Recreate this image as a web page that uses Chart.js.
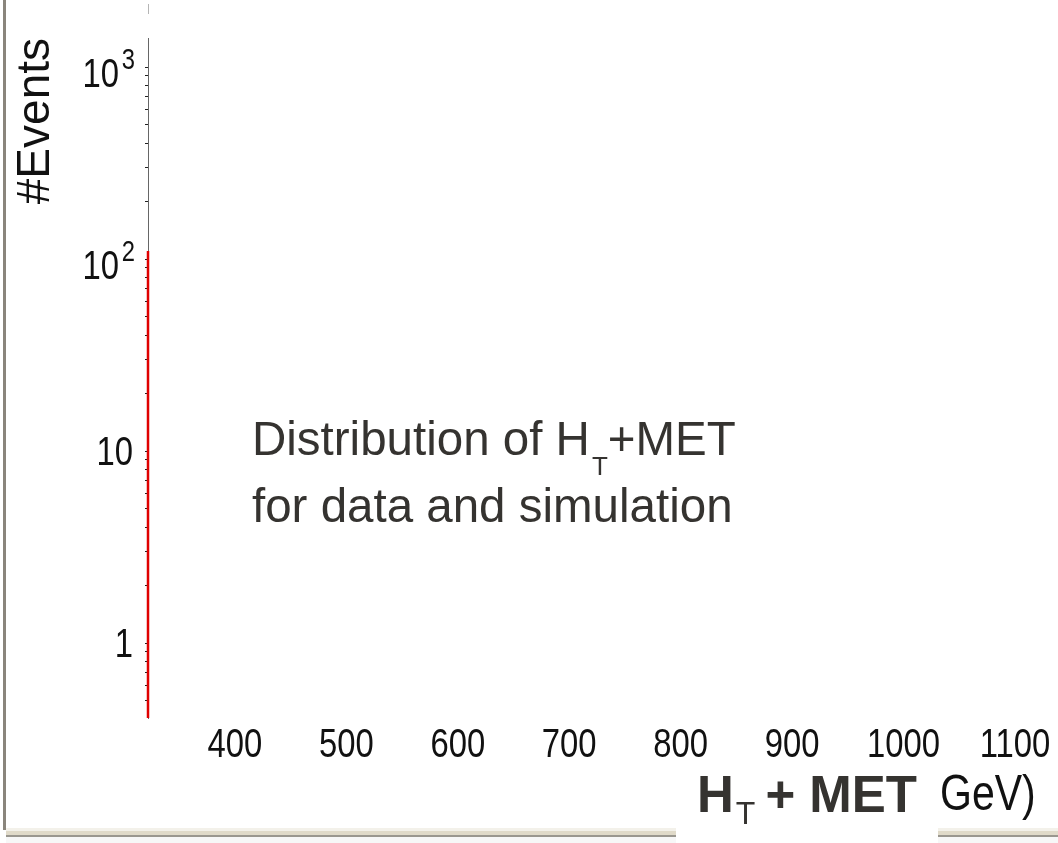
<!DOCTYPE html>
<html>
<head>
<meta charset="utf-8">
<script src="https://cdn.jsdelivr.net/npm/chart.js@4/dist/chart.umd.min.js"></script>
<style>
  body { margin: 0; background: #fff; }
  #wrap { width: 1058px; height: 843px; position: relative; }
</style>
</head>
<body>
<div id="wrap"><canvas id="goo"></canvas></div>
<script>
// HT+MET axis range and labels
const xRange = [322, 1138.6];
const xTicks = [400, 500, 600, 700, 800, 900, 1000, 1100];

// #Events log axis
const yRange = [0.407, 1416];
const yTicks = [0.5, 0.6, 0.7, 0.8, 0.9, 1, 2, 3, 4, 5, 6, 7, 8, 9,
                10, 20, 30, 40, 50, 60, 70, 80, 90,
                100, 200, 300, 400, 500, 600, 700, 800, 900, 1000];
// decade labels: [base, exponent]
const yLabels = { 1: ["1", ""], 10: ["10", ""], 100: ["10", "2"], 1000: ["10", "3"] };

// the only visible piece of the histogram: its left edge
const binEdge = [322, 322];
const simCounts = [0.407, 110];

const sans = "'Liberation Sans', Arial, sans-serif";
const squeeze = 0.82;   // the slide used a narrow face

function narrowText(c, text, x, y, align) {
    c.save();
    c.translate(x, y);
    c.scale(squeeze, 1);
    c.textAlign = align;
    c.fillText(text, 0, 0);
    c.restore();
}

let slideBits = {
    id: "slideBits",
    afterDraw(chart) {
        let c = chart.ctx;
        let xs = chart.scales.x;
        let ys = chart.scales.y;
        c.save();
        c.textBaseline = "alphabetic";

        // left border of the slide
        c.fillStyle = "#8a857c";
        c.fillRect(3, 0, 3, 830);
        c.fillStyle = "#b5b5b5";
        c.fillRect(148, 4, 1, 10);

        // tick labels, narrow like the original
        c.fillStyle = "#111";
        xTicks.forEach(v => {
            c.font = "40px " + sans;
            narrowText(c, String(v), xs.getPixelForValue(v), 757, "center");
        });
        Object.keys(yLabels).forEach(k => {
            let v = Number(k);
            let py = ys.getPixelForValue(v);
            let lab = yLabels[k];
            c.font = "40px " + sans;
            if (lab[1]) {
                narrowText(c, lab[0], 119, py + 20, "right");
                c.font = "29px " + sans;
                narrowText(c, lab[1], 135, py + 2, "right");
            } else {
                narrowText(c, lab[0], 133, py + 14, "right");
            }
        });

        // caption in the middle
        c.fillStyle = "#353330";
        c.textAlign = "left";
        c.font = "47.5px " + sans;
        let t1 = "Distribution of H";
        c.fillText(t1, 252, 455);
        let x = 252 + c.measureText(t1).width + 2;
        c.font = "26px " + sans;
        c.fillText("T", x, 475);
        x += c.measureText("T").width;
        c.font = "47.5px " + sans;
        c.fillText("+MET", x, 455);
        c.fillText("for data and simulation", 252, 522);

        // window chrome at the bottom
        c.fillStyle = "#f3f1ea";
        c.fillRect(6, 828, 1052, 3);
        c.fillStyle = "#e0dac9";
        c.fillRect(6, 831, 1052, 4);
        c.fillStyle = "#9a978f";
        c.fillRect(6, 835, 1052, 2);
        c.fillStyle = "#f7f7f7";
        c.fillRect(6, 837, 1052, 6);

        // leftover of the axis title
        c.fillStyle = "#111";
        c.font = "50px " + sans;
        narrowText(c, "GeV)", 940, 810, "left");

        // pasted white label over the axis title
        c.fillStyle = "#fff";
        c.fillRect(676, 770, 262, 73);
        c.fillStyle = "#353330";
        c.textAlign = "left";
        c.font = "bold 51px " + sans;
        c.fillText("H", 697, 812);
        x = 697 + c.measureText("H").width + 2;
        c.font = "32px " + sans;
        c.fillText("T", x, 824);
        x += c.measureText("T").width + 10;
        c.font = "bold 51px " + sans;
        c.fillText("+ MET", x, 812);

        c.restore();
    }
};

var ctx = document.getElementById("goo").getContext("2d");
var goo = new Chart(ctx, {
    type: "line",
    data: {
        datasets: [{
            label: "simulation",
            data: binEdge.map((v, i) => ({ x: v, y: simCounts[i] })),
            borderColor: "#e00000",
            borderWidth: 2.5,
            pointRadius: 0,
            fill: false,
            clip: false
        }]
    },
    options: {
        responsive: true,
        maintainAspectRatio: false,
        animation: false,
        layout: { padding: { top: 38, left: 0, right: 0, bottom: 0 } },
        plugins: {
            legend: { display: false },
            tooltip: { enabled: false }
        },
        scales: {
            x: {
                type: "linear",
                min: xRange[0],
                max: xRange[1],
                afterBuildTicks: (s) => { s.ticks = xTicks.map(v => ({ value: v })); },
                afterFit: (s) => { s.height = 125; },
                grid: { display: false, drawTicks: false },
                border: { display: false },
                ticks: { display: false, autoSkip: false }
            },
            y: {
                type: "logarithmic",
                min: yRange[0],
                max: yRange[1],
                afterBuildTicks: (s) => { s.ticks = yTicks.map(v => ({ value: v })); },
                afterFit: (s) => { s.width = 148; },
                grid: { drawOnChartArea: false, tickLength: 3, color: "#222" },
                border: { display: true, color: "#666", width: 1 },
                ticks: { display: false, autoSkip: false },
                title: {
                    display: true,
                    text: "#Events",
                    align: "end",
                    color: "#111",
                    font: { family: sans, size: 46 },
                    padding: { top: 9, bottom: 0 }
                }
            }
        }
    },
    plugins: [slideBits]
});
</script>
</body>
</html>
